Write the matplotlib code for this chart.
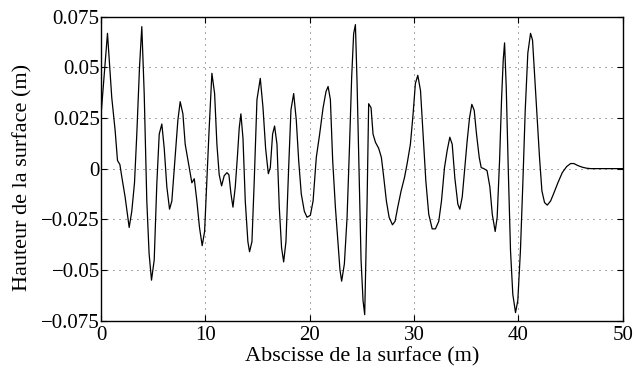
import matplotlib.pyplot as plt

# abscisse (m) et hauteur (m)
x = [0.0, 0.61, 1.02, 1.34, 1.57, 1.8, 1.98, 2.3, 2.69, 2.94, 3.2, 3.42, 3.68, 3.9,
     4.13, 4.38, 4.6, 4.83, 5.09, 5.34, 5.57, 5.82, 6.05, 6.3, 6.56, 6.78, 7.1, 7.36,
     7.58, 7.84, 8.06, 8.38, 8.6, 8.7, 8.93, 9.18, 9.43, 9.69, 9.92, 10.14, 10.36,
     10.62, 10.88, 11.1, 11.32, 11.55, 11.8, 12.06, 12.25, 12.45, 12.64, 12.86, 13.08,
     13.24, 13.4, 13.6, 13.82, 14.07, 14.23, 14.46, 14.68, 14.94, 15.26, 15.52, 15.77,
     16.03, 16.22, 16.44, 16.63, 16.86, 17.08, 17.3, 17.5, 17.72, 17.98, 18.2, 18.46,
     18.71, 18.94, 19.19, 19.48, 19.74, 20.06, 20.32, 20.63, 20.95, 21.28, 21.56, 21.76,
     21.98, 22.2, 22.46, 22.71, 22.9, 23.06, 23.32, 23.58, 23.8, 24.02, 24.21, 24.38,
     24.54, 24.73, 24.92, 25.11, 25.27, 25.5, 25.65, 25.88, 26.07, 26.3, 26.61, 26.87,
     27.1, 27.35, 27.61, 27.93, 28.18, 28.44, 28.76, 29.08, 29.34, 29.65, 29.91, 30.13,
     30.36, 30.62, 30.87, 31.13, 31.41, 31.74, 32.05, 32.37, 32.63, 32.92, 33.18, 33.43,
     33.66, 33.91, 34.2, 34.39, 34.62, 34.87, 35.1, 35.32, 35.54, 35.77, 35.99, 36.25,
     36.44, 36.69, 37.0, 37.27, 37.5, 37.78, 37.97, 38.2, 38.39, 38.55, 38.68, 38.84,
     39.03, 39.25, 39.47, 39.73, 39.95, 40.2, 40.43, 40.66, 40.91, 41.17, 41.36, 41.55,
     41.81, 42.03, 42.26, 42.51, 42.77, 43.09, 43.41, 43.79, 44.21, 44.63, 45.01, 45.33,
     45.71, 46.13, 46.55, 46.93, 48.0, 50.0]
h = [0.027, 0.0667, 0.035, 0.019, 0.004, 0.002, -0.004, -0.014, -0.029, -0.021, -0.007,
     0.017, 0.05, 0.070, 0.037, -0.016, -0.042, -0.055, -0.045, -0.0075, 0.017, 0.022,
     0.010, -0.009, -0.020, -0.016, 0.006, 0.024, 0.033, 0.027, 0.012, 0.0025, -0.004,
     -0.007, -0.005, -0.016, -0.029, -0.038, -0.031, -0.006, 0.020, 0.047, 0.037, 0.012,
     -0.003, -0.0085, -0.0035, -0.002, -0.003, -0.0125, -0.019, -0.009, 0.007, 0.020,
     0.027, 0.015, -0.016, -0.036, -0.041, -0.036, -0.006, 0.034, 0.0445, 0.030, 0.010,
     -0.0025, 0.0005, 0.017, 0.021, 0.012, -0.019, -0.039, -0.046, -0.036, 0.0005, 0.029,
     0.037, 0.024, 0.004, -0.0125, -0.021, -0.024, -0.023, -0.016, 0.0055, 0.017, 0.030,
     0.038, 0.0405, 0.034, 0.004, -0.019, -0.037, -0.050, -0.0555, -0.047, -0.024, 0.009,
     0.045, 0.0665, 0.071, 0.042, -0.0025, -0.045, -0.065, -0.072, -0.016, 0.032, 0.030,
     0.017, 0.013, 0.010, 0.0055, -0.0045, -0.016, -0.024, -0.0277, -0.026, -0.019,
     -0.011, -0.0045, 0.0025, 0.012, 0.027, 0.042, 0.046, 0.0385, 0.017, -0.006, -0.0225,
     -0.0297, -0.0297, -0.026, -0.016, 0.0005, 0.009, 0.0155, 0.012, -0.0045, -0.0175,
     -0.020, -0.014, 0.0005, 0.014, 0.025, 0.0317, 0.0287, 0.017, 0.0055, 0.0005, 0.0,
     -0.001, -0.009, -0.0225, -0.031, -0.024, 0.004, 0.034, 0.0535, 0.062, 0.040, 0.0005,
     -0.0405, -0.062, -0.071, -0.065, -0.0405, -0.0075, 0.0287, 0.057, 0.0667, 0.0634,
     0.047, 0.024, 0.0055, -0.011, -0.0167, -0.018, -0.016, -0.012, -0.007, -0.002, 0.001,
     0.0025, 0.0025, 0.0015, 0.0007, 0.0002, 0.0, 0.0, 0.0]

xticks = [0, 10, 20, 30, 40, 50]
yticks = [-0.075, -0.05, -0.025, 0, 0.025, 0.05, 0.075]
ylabels = ['\u22120.075', '\u22120.05', '\u22120.025', '0', '0.025', '0.05', '0.075']

plt.rcParams['font.family'] = ['Liberation Serif', 'DejaVu Serif']
plt.rcParams['font.size'] = 16

fig = plt.figure(figsize=(6.36, 3.71), dpi=100)
ax = fig.add_axes([0.159, 0.1355, 0.820, 0.820])
ax.plot(x, h, color='k', lw=0.9)
ax.set_xlim(0, 50)
ax.set_ylim(-0.075, 0.075)
ax.set_xticks(xticks)
ax.set_yticks(yticks)
ax.set_yticklabels(ylabels)
ax.grid(True, linestyle=(0, (1.2, 6)), color='k', lw=0.6, alpha=0.8)
ax.tick_params(direction='in', top=True, right=True, length=4, labelsize=15)
ax.tick_params(axis='x', pad=4)
ax.tick_params(axis='y', pad=1)
for s in ax.spines.values():
    s.set_linewidth(1.0)
ax.set_xlabel('Abscisse de la surface (m)')
ax.set_ylabel('Hauteur de la surface (m)')
ax.xaxis.set_label_coords(0.5, -0.086)
ax.yaxis.set_label_coords(-0.132, 0.47)

fig.savefig('out.png', dpi=100)
